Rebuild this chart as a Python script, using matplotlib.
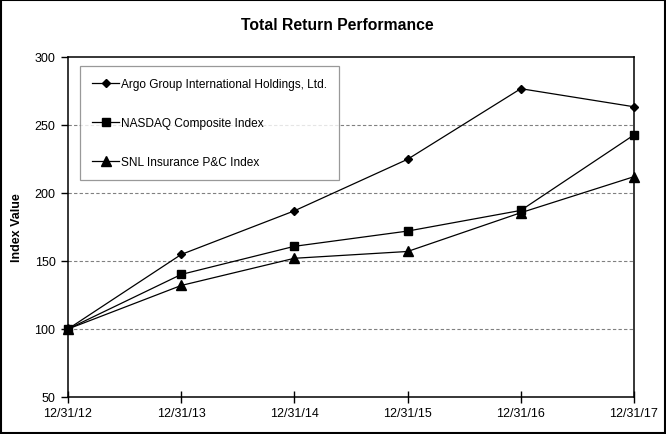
import matplotlib
matplotlib.use("Agg")
import matplotlib.pyplot as plt
from matplotlib.patches import Rectangle

plt.rcParams['font.family'] = ['Liberation Sans', 'DejaVu Sans']

dates = ["12/31/12", "12/31/13", "12/31/14", "12/31/15", "12/31/16", "12/31/17"]
argo = [100, 154.8, 186.9, 224.8, 276.7, 263.4]
nasdaq = [100, 140.1, 160.8, 172.0, 187.2, 242.7]
snl = [100, 132.0, 152.0, 157.0, 185.5, 212.0]
series_names = ["Argo Group International Holdings, Ltd.",
                "NASDAQ Composite Index",
                "SNL Insurance P&C Index"]
yticks = [50, 100, 150, 200, 250, 300]

fig = plt.figure(figsize=(6.66, 4.35), dpi=100)
ax = fig.add_axes([68/666, 37/435, (634-68)/666, (398-58)/435])

x = list(range(len(dates)))
ax.plot(x, argo, color='black', lw=0.9, marker='D', ms=4.5, label=series_names[0],
        clip_on=False, zorder=3)
ax.plot(x, nasdaq, color='black', lw=0.9, marker='s', ms=6, label=series_names[1],
        clip_on=False, zorder=3)
ax.plot(x, snl, color='black', lw=0.9, marker='^', ms=6.5, label=series_names[2],
        clip_on=False, zorder=3)

ax.set_xlim(0, len(dates) - 1)
ax.set_ylim(50, 300)
ax.set_xticks(x)
ax.set_xticklabels(dates, fontsize=9)
ax.set_yticks(yticks)
ax.set_yticklabels([str(v) for v in yticks], fontsize=9)
for v in yticks[1:-1]:
    ax.axhline(v, color='#808080', lw=0.8, ls=(0, (3, 2)), zorder=0)

ax.tick_params(axis='y', direction='out', length=5, width=1, pad=4)
ax.tick_params(axis='x', direction='inout', length=8, width=1, pad=3)
for s in ax.spines.values():
    s.set_linewidth(1.1)
    s.set_color('black')

ax.set_ylabel("Index Value", fontsize=9, fontweight='bold', labelpad=8)

fig.text(337/666, 1 - 25/435, "Total Return Performance", ha='center', va='center',
         fontsize=11.3, fontweight='bold')

leg = ax.legend(loc='upper left', bbox_to_anchor=(12/566, 1 - 9/340), frameon=True,
                fancybox=False, edgecolor='#808080', fontsize=8.6, handlelength=2.3,
                labelspacing=2.25, borderpad=1.0, handletextpad=0.1, borderaxespad=0)
leg.get_frame().set_linewidth(0.9)
leg.set_zorder(5)

fig.patches.append(Rectangle((0.0015, 0.002), 0.997, 0.996, transform=fig.transFigure,
                             fill=False, edgecolor='black', lw=1.5))

fig.savefig("out.png", dpi=100)
